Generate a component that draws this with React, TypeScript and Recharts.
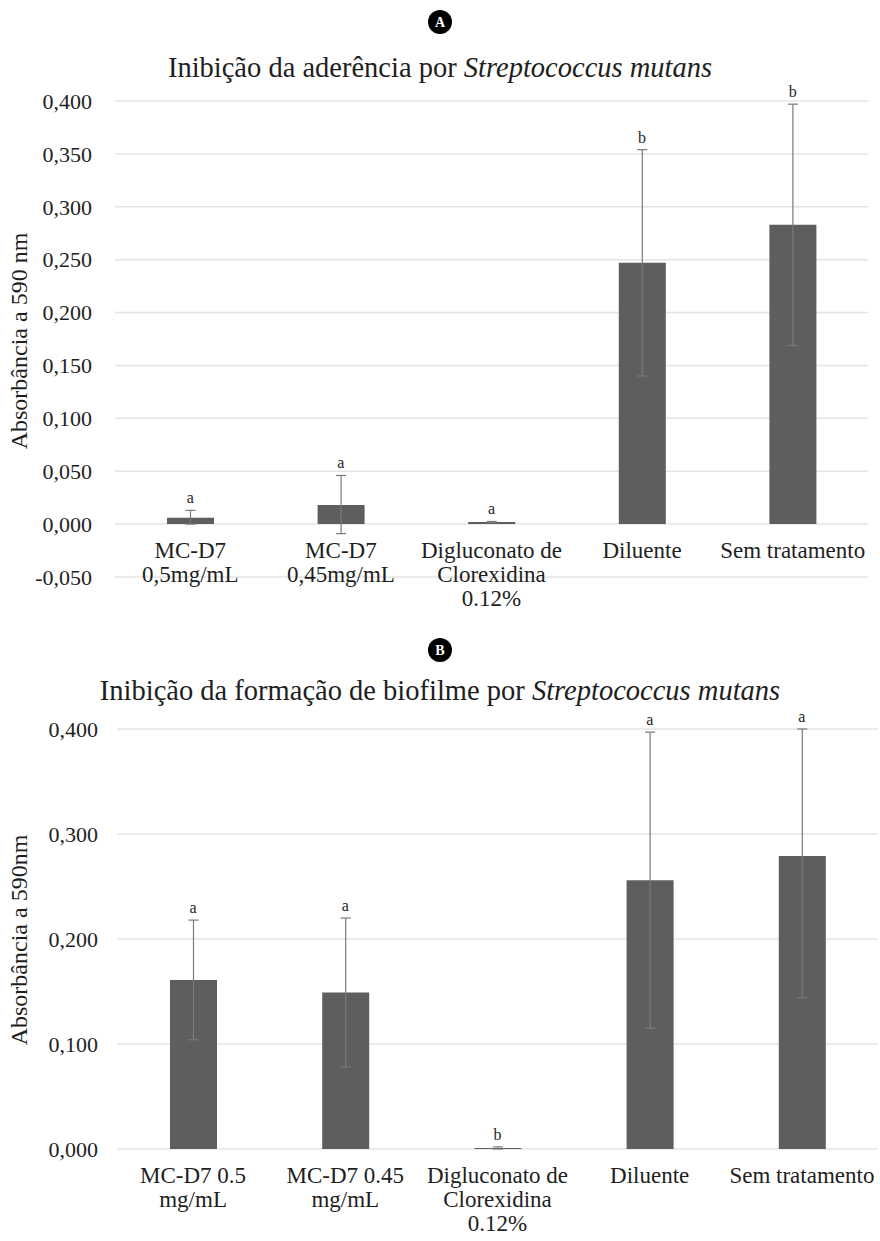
import React from 'react';
import { ComposedChart, Bar, Line, XAxis, YAxis, CartesianGrid, ErrorBar, LabelList } from 'recharts';

const FONT = "'Liberation Serif', 'DejaVu Serif', serif";

// Painel A - aderência
const categoriesA = ['MC-D7\n0,5mg/mL', 'MC-D7\n0,45mg/mL', 'Digluconato de\nClorexidina\n0.12%', 'Diluente', 'Sem tratamento'];
const valuesA = [0.006, 0.018, 0.002, 0.247, 0.283];
const errorsA = [[0.006, 0.007], [0.027, 0.028], [0.0005, 0.0005], [0.107, 0.107], [0.114, 0.114]];
const lettersA = ['a', 'a', 'a', 'b', 'b'];
const ticksA = [-0.05, 0, 0.05, 0.1, 0.15, 0.2, 0.25, 0.3, 0.35, 0.4];

// Painel B - biofilme
const categoriesB = ['MC-D7 0.5\nmg/mL', 'MC-D7 0.45\nmg/mL', 'Digluconato de\nClorexidina\n0.12%', 'Diluente', 'Sem tratamento'];
const valuesB = [0.161, 0.149, 0.001, 0.256, 0.279];
const errorsB = [[0.057, 0.057], [0.071, 0.071], [0.001, 0.001], [0.141, 0.141], [0.135, 0.121]];
const lettersB = ['a', 'a', 'b', 'a', 'a'];
const ticksB = [0, 0.1, 0.2, 0.3, 0.4];

const buildRows = (cats: string[], vals: number[], errs: number[][], letters: string[]) =>
  cats.map((name, i) => ({
    name,
    value: vals[i],
    err: errs[i],
    letter: letters[i],
    labelPos: vals[i] + errs[i][1],
  }));

const rowsA = buildRows(categoriesA, valuesA, errorsA, lettersA);
const rowsB = buildRows(categoriesB, valuesB, errorsB, lettersB);

const fmt = (v: number) => v.toFixed(3).replace('.', ',');

const makeTick = (shift: number) => (props: any) => {
  const { x, y, payload } = props;
  const lines = String(payload.value).split('\n');
  return (
    <text x={x} y={y + shift} textAnchor="middle" fill="#1e1e1e" style={{ fontSize: 23, fontFamily: FONT }}>
      {lines.map((l, i) => (
        <tspan key={i} x={x} dy={i === 0 ? 0 : 24}>
          {l}
        </tspan>
      ))}
    </text>
  );
};

const BAR_COLOR = '#5e5e5e';
const ERR_COLOR = '#7a7a7a';

const Panel = ({ rows, ticks, domain, height, margin, yWidth, yMargin, xHeight, shift }: any) => (
  <ComposedChart width={880} height={height} data={rows} margin={margin}>
    <CartesianGrid vertical={false} stroke="#e4e4e4" strokeWidth={1.5} />
    <XAxis
      dataKey="name"
      axisLine={false}
      tickLine={false}
      tickSize={0}
      tickMargin={0}
      interval={0}
      height={xHeight}
      tick={makeTick(shift)}
    />
    <YAxis
      domain={domain}
      ticks={ticks}
      interval={0}
      width={yWidth}
      axisLine={false}
      tickLine={false}
      tickSize={0}
      tickMargin={yMargin}
      tickFormatter={fmt}
      tick={{ fill: '#1e1e1e', fontSize: 22, style: { fontFamily: FONT } }}
    />
    <Bar dataKey="value" fill={BAR_COLOR} barSize={47} isAnimationActive={false}>
      <ErrorBar dataKey="err" width={5} stroke={ERR_COLOR} strokeWidth={1.2} direction="y" />
    </Bar>
    <Line
      dataKey="labelPos"
      stroke="none"
      dot={false}
      activeDot={false}
      legendType="none"
      isAnimationActive={false}
    >
      <LabelList dataKey="letter" position="top" offset={7} fill="#1e1e1e" fontSize={16} style={{ fontFamily: FONT }} />
    </Line>
  </ComposedChart>
);

const textStyle = { fontFamily: FONT };

const App: React.FC = () => {
  return (
    <div style={{ position: 'absolute', left: 0, top: 0, width: 880, height: 1241, background: '#fff', overflow: 'hidden', fontFamily: FONT }}>
      <div style={{ position: 'absolute', left: 0, top: 0 }}>
        <Panel
          rows={rowsA}
          ticks={ticksA}
          domain={[-0.05, 0.4]}
          height={620}
          margin={{ top: 101, right: 12, bottom: 3, left: 0 }}
          yWidth={115}
          yMargin={23}
          xHeight={40}
          shift={-19}
        />
      </div>
      <div style={{ position: 'absolute', left: 0, top: 620 }}>
        <Panel
          rows={rowsB}
          ticks={ticksB}
          domain={[0, 0.4]}
          height={621}
          margin={{ top: 109, right: 2, bottom: 2, left: 0 }}
          yWidth={117}
          yMargin={19}
          xHeight={90}
          shift={34}
        />
      </div>
      <svg width={880} height={1241} style={{ position: 'absolute', left: 0, top: 0, pointerEvents: 'none' }}>
        <circle cx={440} cy={22} r={12} fill="#000" />
        <text x={440} y={27} textAnchor="middle" fill="#fff" fontSize={14} fontWeight="bold" style={textStyle}>A</text>
        <text x={440} y={77} textAnchor="middle" fill="#1e1e1e" fontSize={28.5} style={textStyle}>
          Inibição da aderência por <tspan fontStyle="italic">Streptococcus mutans</tspan>
        </text>
        <text transform="translate(27 341) rotate(-90)" textAnchor="middle" fill="#1e1e1e" fontSize={24} style={textStyle}>
          Absorbância a 590 nm
        </text>

        <circle cx={440} cy={650} r={12} fill="#000" />
        <text x={440} y={655} textAnchor="middle" fill="#fff" fontSize={14} fontWeight="bold" style={textStyle}>B</text>
        <text x={440} y={700} textAnchor="middle" fill="#1e1e1e" fontSize={28.5} style={textStyle}>
          Inibição da formação de biofilme por <tspan fontStyle="italic">Streptococcus mutans</tspan>
        </text>
        <text transform="translate(27 940) rotate(-90)" textAnchor="middle" fill="#1e1e1e" fontSize={24} style={textStyle}>
          Absorbância a 590nm
        </text>
      </svg>
    </div>
  );
};

export default App;
